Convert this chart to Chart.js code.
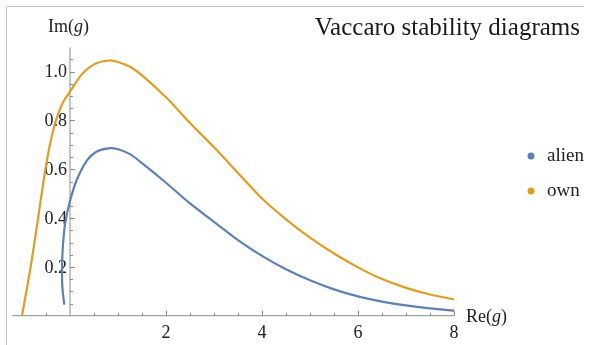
<!DOCTYPE html>
<html>
<head>
<meta charset="utf-8">
<script src="https://cdn.jsdelivr.net/npm/chart.js@4"></script>
<style>
  html, body { margin: 0; padding: 0; background: #fff; }
  #wrap { position: relative; width: 590px; height: 345px; }
</style>
</head>
<body>
<div id="wrap"><canvas id="vaccaro" width="590" height="345"></canvas></div>
<script>
// curve samples (Re(g), Im(g))
const alienX = [-0.12, -0.16, -0.165, -0.15, -0.10, 0, 0.14, 0.35, 0.55, 0.8, 1.0, 1.25, 1.5, 2.0, 2.5, 3.0, 3.5, 4.0, 4.5, 5.0, 5.5, 6.0, 6.5, 7.0, 7.5, 8.0];
const alienY = [0.045, 0.12, 0.2, 0.28, 0.38, 0.47, 0.556, 0.636, 0.672, 0.686, 0.682, 0.662, 0.625, 0.545, 0.46, 0.385, 0.31, 0.245, 0.19, 0.145, 0.108, 0.079, 0.058, 0.042, 0.030, 0.021];
const ownX = [-1.0, -0.82, -0.68, -0.56, -0.45, -0.31, -0.15, 0, 0.25, 0.5, 0.8, 1.0, 1.25, 1.5, 2.0, 2.5, 3.0, 3.5, 4.0, 4.5, 5.0, 5.5, 6.0, 6.5, 7.0, 7.5, 8.0];
const ownY = [0, 0.2, 0.38, 0.54, 0.67, 0.79, 0.873, 0.918, 0.99, 1.03, 1.046, 1.04, 1.02, 0.985, 0.895, 0.79, 0.69, 0.585, 0.48, 0.395, 0.32, 0.255, 0.198, 0.150, 0.114, 0.087, 0.067];

const seriesNames = ['alien', 'own'];
const seriesColors = ['#5E81B5', '#E19C24'];

const xTicks = [2, 4, 6, 8];
const yTicks = [0.2, 0.4, 0.6, 0.8, 1.0];

const title = 'Vaccaro stability diagrams';
const serif = '"Liberation Serif", "DejaVu Serif", serif';

function toPoints(xs, ys) {
  return xs.map((x, i) => ({ x: x, y: ys[i] }));
}

// axes through the origin, with Mathematica-style inward ticks
const axesPlugin = {
  id: 'axes',
  beforeDatasetsDraw(chart) {
    const ctx = chart.ctx;
    const xs = chart.scales.x, ys = chart.scales.y;
    const x0 = xs.getPixelForValue(0), y0 = ys.getPixelForValue(0);
    ctx.save();
    ctx.strokeStyle = '#8c8c8c';
    ctx.lineWidth = 1;
    ctx.beginPath();
    ctx.moveTo(xs.left, y0); ctx.lineTo(xs.right, y0);
    ctx.moveTo(x0, ys.top); ctx.lineTo(x0, ys.bottom);
    // x minor/major ticks
    for (let v = -1; v <= 8.001; v += 0.5) {
      if (Math.abs(v) < 1e-6) continue;
      const px = Math.round(xs.getPixelForValue(v)) + 0.5;
      const len = xTicks.some(t => Math.abs(t - v) < 1e-6) ? 5 : 3;
      ctx.moveTo(px, y0); ctx.lineTo(px, y0 - len);
    }
    // y minor/major ticks
    for (let v = 0.05; v <= 1.1; v += 0.05) {
      const py = Math.round(ys.getPixelForValue(v)) + 0.5;
      const len = yTicks.some(t => Math.abs(t - v) < 1e-6) ? 5 : 3;
      ctx.moveTo(x0, py); ctx.lineTo(x0 + len, py);
    }
    ctx.stroke();

    ctx.fillStyle = '#222';
    ctx.font = '18px ' + serif;
    ctx.textAlign = 'center';
    ctx.textBaseline = 'alphabetic';
    xTicks.forEach(t => ctx.fillText(String(t), xs.getPixelForValue(t), y0 + 22));
    ctx.textAlign = 'right';
    ctx.textBaseline = 'middle';
    yTicks.forEach(t => ctx.fillText(t.toFixed(1), x0 - 3, ys.getPixelForValue(t) + 1));

    // axis labels with italic g
    function label(x, y, pre, it, post) {
      ctx.textAlign = 'left';
      ctx.textBaseline = 'alphabetic';
      ctx.font = '18px ' + serif;
      ctx.fillText(pre, x, y);
      let w = ctx.measureText(pre).width;
      ctx.font = 'italic 18px ' + serif;
      ctx.fillText(it, x + w, y);
      w += ctx.measureText(it).width;
      ctx.font = '18px ' + serif;
      ctx.fillText(post, x + w, y);
    }
    label(48, 32, 'Im(', 'g', ')');
    label(466, 322, 'Re(', 'g', ')');

    // title
    ctx.font = '25px ' + serif;
    ctx.textAlign = 'right';
    ctx.fillStyle = '#1a1a1a';
    ctx.fillText(title, 580, 35);

    // frame lines (top and left)
    ctx.strokeStyle = '#c8c8c8';
    ctx.beginPath();
    ctx.moveTo(6.5, 345); ctx.lineTo(6.5, 6.5); ctx.lineTo(584, 6.5);
    ctx.stroke();
    ctx.restore();
  },
  afterDraw(chart) {
    const ctx = chart.ctx;
    ctx.save();
    chart.data.datasets.forEach((ds, i) => {
      const y = 156 + i * 35;
      ctx.fillStyle = ds.borderColor;
      ctx.beginPath();
      ctx.arc(531, y, 3.5, 0, Math.PI * 2);
      ctx.fill();
      ctx.fillStyle = '#222';
      ctx.font = '19px ' + serif;
      ctx.textAlign = 'left';
      ctx.textBaseline = 'middle';
      ctx.fillText(ds.label, 547, y);
    });
    ctx.restore();
  }
};

new Chart(document.getElementById('vaccaro'), {
  type: 'scatter',
  data: {
    datasets: [
      { label: seriesNames[0], data: toPoints(alienX, alienY), borderColor: seriesColors[0], backgroundColor: seriesColors[0] },
      { label: seriesNames[1], data: toPoints(ownX, ownY), borderColor: seriesColors[1], backgroundColor: seriesColors[1] }
    ]
  },
  options: {
    responsive: false,
    animation: false,
    showLine: true,
    layout: { padding: { left: 12.4, right: 136, top: 47.3, bottom: 29.3 } },
    elements: {
      point: { radius: 0, hoverRadius: 0 },
      line: { borderWidth: 2.2, tension: 0.35, fill: false }
    },
    scales: {
      x: { type: 'linear', min: -1.2, max: 8, display: false },
      y: { type: 'linear', min: 0, max: 1.1, display: false }
    },
    plugins: {
      legend: { display: false },
      tooltip: { enabled: false }
    }
  },
  plugins: [axesPlugin]
});
</script>
</body>
</html>
